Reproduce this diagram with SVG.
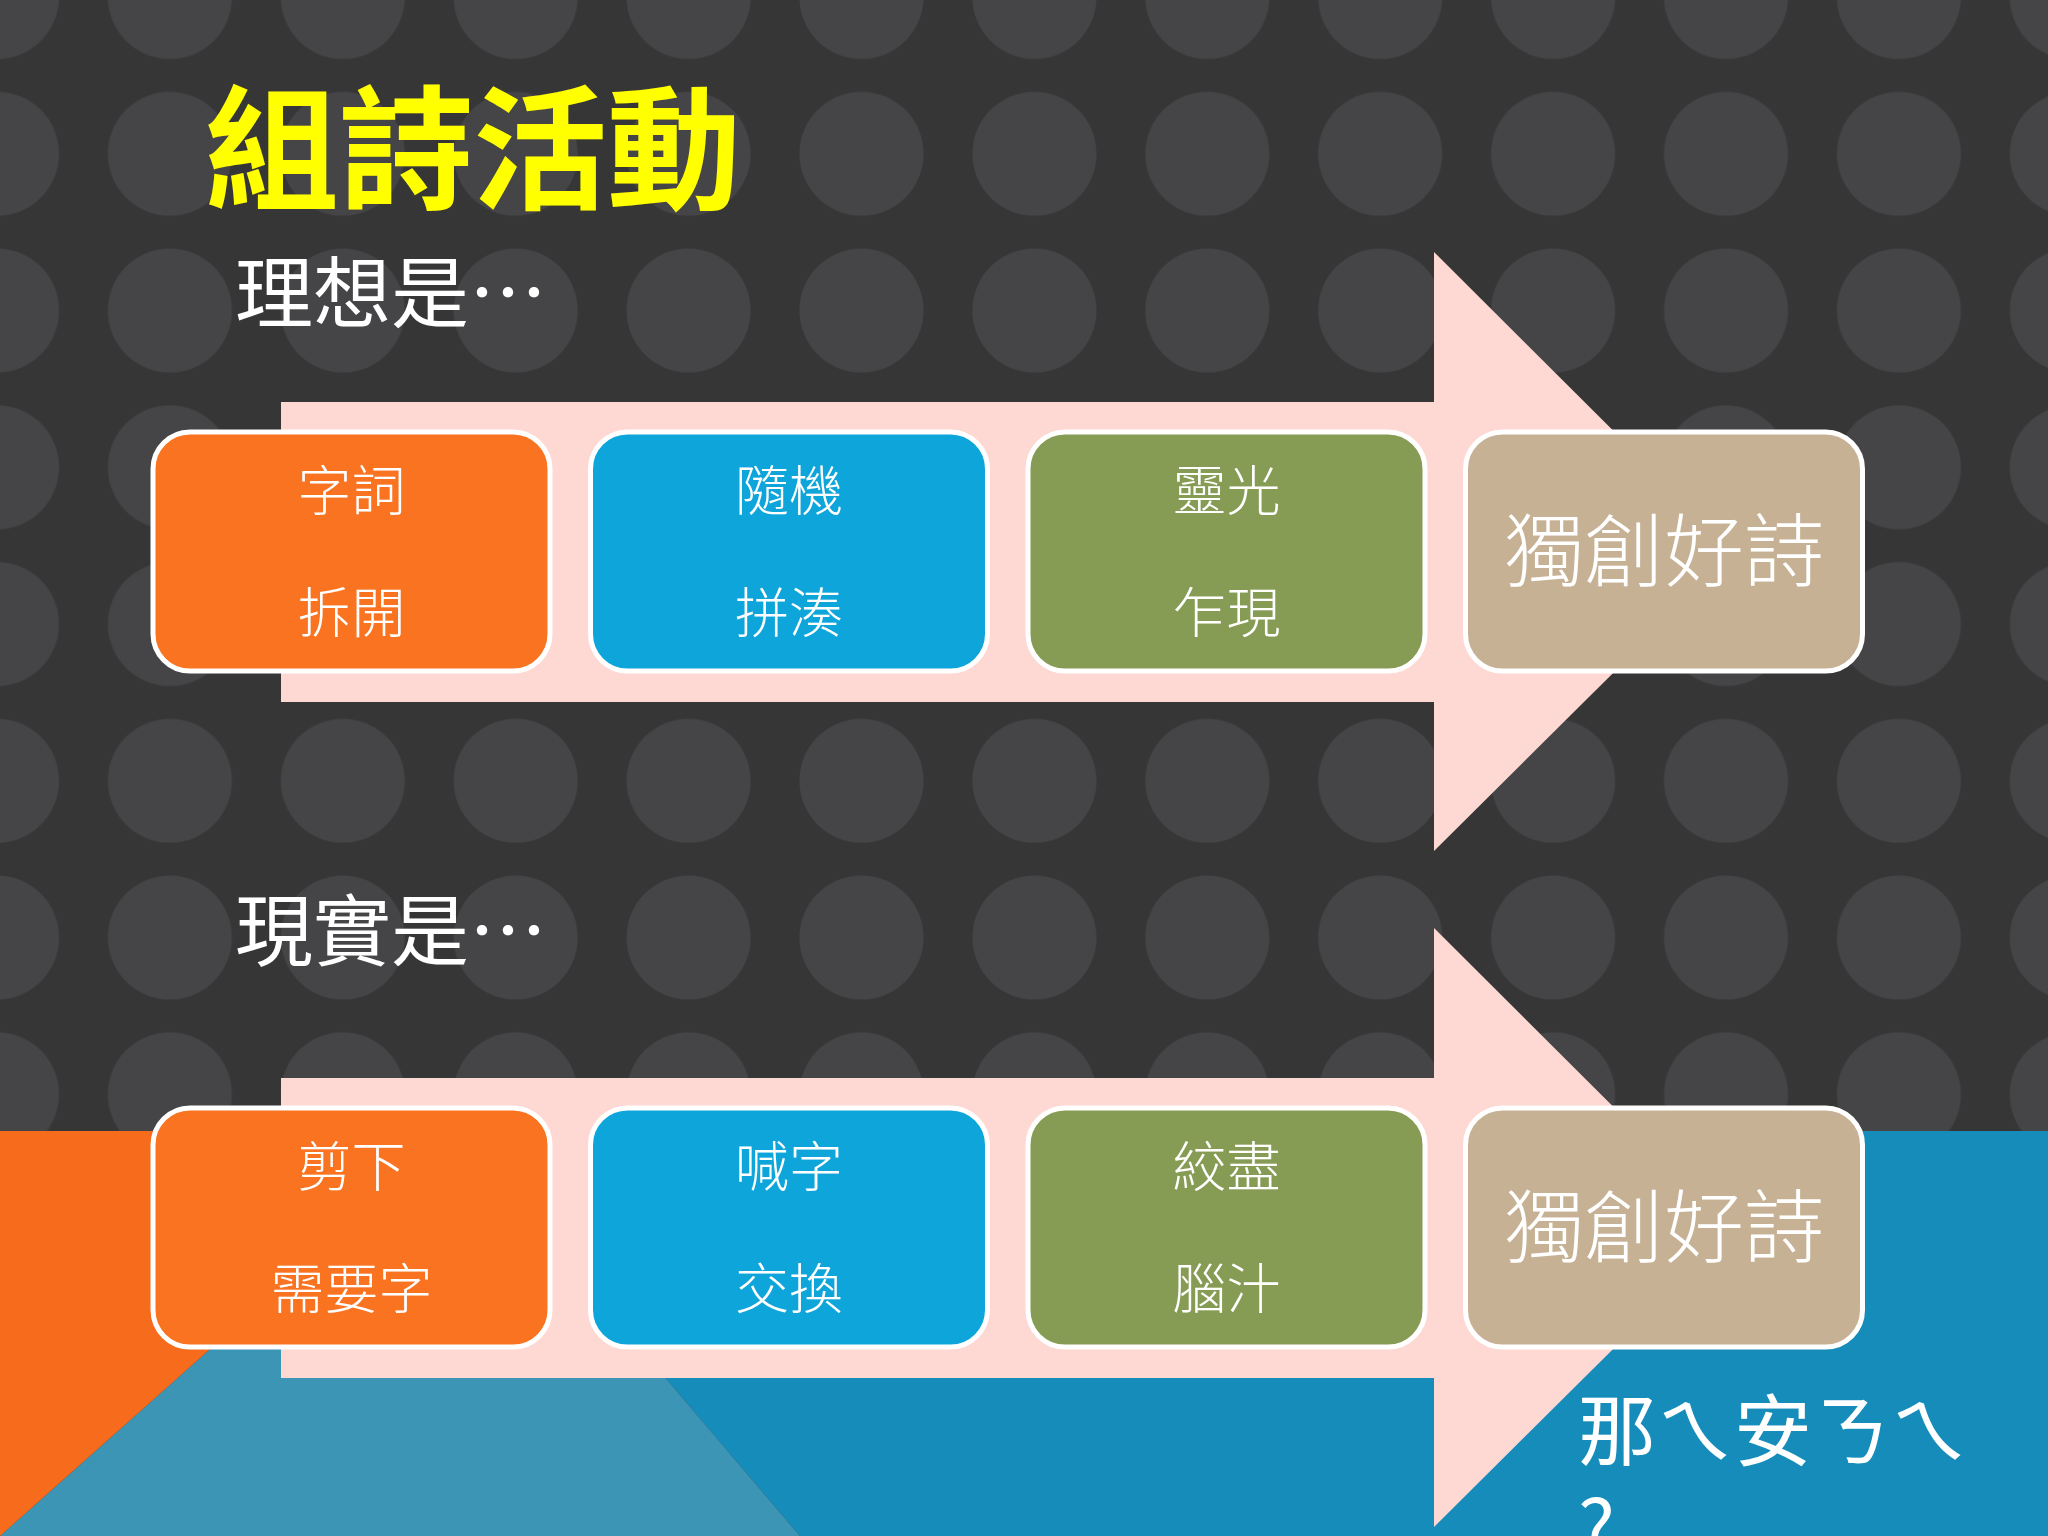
<svg xmlns="http://www.w3.org/2000/svg" width="2048" height="1536" viewBox="0 0 2048 1536">
  <defs>
    <pattern id="dots" patternUnits="userSpaceOnUse" x="-89.45" y="-81.4" width="172.9" height="156.75">
      <circle cx="86.45" cy="78.4" r="62" fill="#454446"/>
    </pattern>
    <style>
      .box { stroke: #ffffff; stroke-width: 5; }
      .orange { fill: #f97321; }
      .blue { fill: #0ea6da; }
      .green { fill: #869b53; }
      .tan { fill: #c7b194; }
      .arrow { fill: #fed9d3; }
      .lbl { font-family: "Noto Sans CJK TC", "Noto Sans CJK SC", sans-serif; font-weight: 300; fill: #ffffff; text-anchor: middle; }
      .small { font-size: 54px; }
      .big { font-size: 80px; }
      .head { font-family: "Noto Sans CJK TC", "Noto Sans CJK SC", sans-serif; fill: #ffffff; font-size: 78px; }
    </style>
  </defs>

  <g id="background">
    <rect x="0" y="0" width="2048" height="1536" fill="#373637"/>
    <rect x="0" y="0" width="2048" height="1536" fill="url(#dots)"/>
    <polygon points="455,1131 2048,1131 2048,1536 800,1536" fill="#168cbb"/>
    <polygon points="455,1131 800,1536 0,1536" fill="#3d95b6"/>
    <polygon points="0,1131 455,1131 0,1536" fill="#f76b1c"/>
  </g>

  <text id="title" x="205" y="199" font-family="Noto Sans CJK TC, Noto Sans CJK SC, sans-serif" font-weight="700" font-size="134" fill="#ffff00">組詩活動</text>
  <text id="ideal" class="head" x="235" y="322">理想是…</text>
  <text id="reality" class="head" x="235" y="960">現實是…</text>

  <g id="connectors">
    <path class="arrow" d="M281,402 H1434 V252 L1735,552 L1434,851 V702 H281 Z"/>
    <path class="arrow" d="M281,1078 H1434 V928 L1735,1228 L1434,1527 V1378 H281 Z"/>
  </g>

  <g id="node-ideal-1">
    <rect class="box orange" x="153" y="432" width="397" height="239" rx="37"/>
    <text class="lbl small" x="351.5" y="511">字詞</text>
    <text class="lbl small" x="351.5" y="633">拆開</text>
  </g>
  <g id="node-ideal-2">
    <rect class="box blue" x="590.5" y="432" width="397" height="239" rx="37"/>
    <text class="lbl small" x="789" y="511">隨機</text>
    <text class="lbl small" x="789" y="633">拼湊</text>
  </g>
  <g id="node-ideal-3">
    <rect class="box green" x="1028" y="432" width="397" height="239" rx="37"/>
    <text class="lbl small" x="1226.5" y="511">靈光</text>
    <text class="lbl small" x="1226.5" y="633">乍現</text>
  </g>
  <g id="node-ideal-4">
    <rect class="box tan" x="1465.5" y="432" width="397" height="239" rx="37"/>
    <text class="lbl big" x="1664" y="580">獨創好詩</text>
  </g>

  <g id="node-real-1">
    <rect class="box orange" x="153" y="1108" width="397" height="239" rx="37"/>
    <text class="lbl small" x="351.5" y="1187">剪下</text>
    <text class="lbl small" x="351.5" y="1309">需要字</text>
  </g>
  <g id="node-real-2">
    <rect class="box blue" x="590.5" y="1108" width="397" height="239" rx="37"/>
    <text class="lbl small" x="789" y="1187">喊字</text>
    <text class="lbl small" x="789" y="1309">交換</text>
  </g>
  <g id="node-real-3">
    <rect class="box green" x="1028" y="1108" width="397" height="239" rx="37"/>
    <text class="lbl small" x="1226.5" y="1187">絞盡</text>
    <text class="lbl small" x="1226.5" y="1309">腦汁</text>
  </g>
  <g id="node-real-4">
    <rect class="box tan" x="1465.5" y="1108" width="397" height="239" rx="37"/>
    <text class="lbl big" x="1664" y="1256">獨創好詩</text>
  </g>

  <text id="question" class="head" x="1578" y="1460">那ㄟ安ㄋㄟ<tspan x="1578" y="1556">?</tspan></text>
</svg>
